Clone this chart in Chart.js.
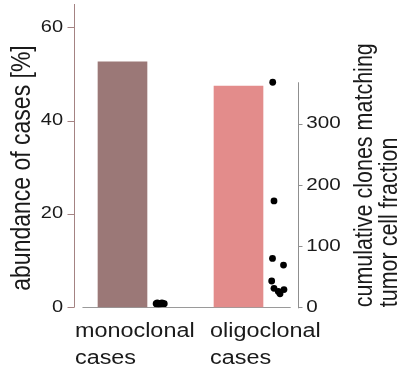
<!DOCTYPE html>
<html>
<head>
<meta charset="utf-8">
<script src="https://cdn.jsdelivr.net/npm/chart.js@4"></script>
<style>
  html, body { margin: 0; padding: 0; background: #ffffff; }
  #chart { display: block; }
</style>
</head>
<body>
<canvas id="chart" width="399" height="368"></canvas>
<script>
// Categories and their two-line axis labels
const categories = ['monoclonal cases', 'oligoclonal cases'];
const categoryLabels = [['monoclonal', 'cases'], ['oligoclonal', 'cases']];

// Share of cases per category [%]
const abundancePct = [52.6, 47.4];

// Cumulative clones matching tumor cell fraction, one value per case
const monoClones = [6, 7, 6, 5, 6, 7, 6, 6, 5, 6];
const oligoClones = [368, 174, 80, 69, 43, 31, 26, 22, 29];

// Horizontal strip jitter of each case, in category units
const monoJitter = [0.29, 0.30, 0.31, 0.32, 0.33, 0.34, 0.35, 0.36, 0.30, 0.33];
const oligoJitter = [0.295, 0.306, 0.293, 0.388, 0.286, 0.306, 0.343, 0.358, 0.392];

// Tick labels
const leftTicks = [0, 20, 40, 60];
const rightTicks = [0, 100, 200, 300];

const FONT = '"Liberation Sans", Arial, sans-serif';
const TEXT = '#1a1a1a';
const SX = 1.2;   // wide glyph stretch used for axis text

function stretchedText(ctx, text, x, y, o) {
  ctx.save();
  ctx.translate(x, y);
  ctx.scale(o.sx || SX, 1);
  if (o.rot) ctx.rotate(o.rot);
  ctx.font = o.font;
  ctx.fillStyle = o.color || TEXT;
  ctx.textAlign = o.align || 'left';
  ctx.textBaseline = o.baseline || 'alphabetic';
  ctx.fillText(text, 0, 0);
  ctx.restore();
}

const axesPlugin = {
  id: 'customAxes',
  beforeDatasetsDraw(chart) {
    const { ctx, chartArea: a } = chart;
    const x = chart.scales.x, y = chart.scales.y, y2 = chart.scales.y2;
    ctx.save();
    ctx.lineWidth = 1;

    // left axis (abundance)
    const lx = Math.round(a.left) + 0.5;
    ctx.strokeStyle = '#a48383';
    ctx.beginPath();
    ctx.moveTo(lx, a.top);
    ctx.lineTo(lx, y.getPixelForValue(0));
    y.ticks.forEach(t => {
      const py = Math.round(y.getPixelForValue(t.value)) + 0.5;
      ctx.moveTo(lx - 7, py);
      ctx.lineTo(lx, py);
    });
    ctx.stroke();

    // right axis (clones), running up to the largest value
    const rx = Math.round(a.right) + 0.5;
    const top = y2.getPixelForValue(Math.max(...oligoClones, ...monoClones));
    ctx.strokeStyle = '#8f8f8f';
    ctx.beginPath();
    ctx.moveTo(rx, top);
    ctx.lineTo(rx, y2.getPixelForValue(0) + 1);
    y2.ticks.forEach(t => {
      const py = Math.round(y2.getPixelForValue(t.value)) + 0.5;
      ctx.moveTo(rx, py);
      ctx.lineTo(rx + 4, py);
    });
    ctx.stroke();

    // baseline under the bars
    const by = Math.round(y.getPixelForValue(0)) + 0.5;
    ctx.strokeStyle = '#9a9a9a';
    ctx.beginPath();
    ctx.moveTo(x.getPixelForValue(-0.345), by);
    ctx.lineTo(x.getPixelForValue(1.45), by);
    ctx.stroke();
    ctx.restore();
  },
  afterDraw(chart) {
    const { ctx, chartArea: a } = chart;
    const x = chart.scales.x, y = chart.scales.y, y2 = chart.scales.y2;

    y.ticks.forEach(t => {
      stretchedText(ctx, String(t.value), a.left - 11, y.getPixelForValue(t.value),
        { font: '16px ' + FONT, align: 'right', baseline: 'middle', sx: 1.25 });
    });
    y2.ticks.forEach(t => {
      stretchedText(ctx, String(t.value), a.right + 8, y2.getPixelForValue(t.value),
        { font: '16.5px ' + FONT, align: 'left', baseline: 'middle', sx: 1.25 });
    });

    // category labels, left aligned
    const labelAnchor = [-0.41, 0.755];
    categoryLabels.forEach((lines, i) => {
      const px = x.getPixelForValue(labelAnchor[i]);
      lines.forEach((line, j) => {
        stretchedText(ctx, line, px, a.bottom + 29.5 + j * 27.5,
          { font: '20px ' + FONT, align: 'left', sx: 1.17 });
      });
    });

    // axis titles
    stretchedText(ctx, 'abundance of cases [%]', 29.5, 168,
      { font: '23px ' + FONT, align: 'center', rot: -Math.PI / 2, sx: 1.18 });
    stretchedText(ctx, 'cumulative clones matching', 371.5, a.bottom,
      { font: '21.5px ' + FONT, align: 'left', rot: -Math.PI / 2, sx: 1.18 });
    stretchedText(ctx, 'tumor cell fraction', 396.5, a.bottom,
      { font: '21.5px ' + FONT, align: 'left', rot: -Math.PI / 2, sx: 1.18 });
  }
};

const barData = abundancePct.map((v, i) => ({ x: i, y: v }));
const monoPoints = monoClones.map((v, i) => ({ x: 0 + monoJitter[i], y: v }));
const oligoPoints = oligoClones.map((v, i) => ({ x: 1 + oligoJitter[i], y: v }));

new Chart(document.getElementById('chart'), {
  data: {
    datasets: [
      {
        type: 'bar',
        label: 'abundance of cases [%]',
        data: barData,
        backgroundColor: ['#9b7877', '#e38c8b'],
        borderWidth: 0,
        barThickness: 49,
        xAxisID: 'x',
        yAxisID: 'y',
        order: 2
      },
      {
        type: 'scatter',
        label: categories[0],
        data: monoPoints,
        backgroundColor: '#000000',
        borderWidth: 0,
        pointRadius: 3.4,
        xAxisID: 'x',
        yAxisID: 'y2',
        order: 1
      },
      {
        type: 'scatter',
        label: categories[1],
        data: oligoPoints,
        backgroundColor: '#000000',
        borderWidth: 0,
        pointRadius: 3.4,
        xAxisID: 'x',
        yAxisID: 'y2',
        order: 1
      }
    ]
  },
  options: {
    responsive: false,
    animation: false,
    layout: { padding: { left: 74, right: 100.7, top: 4, bottom: 60.7 } },
    plugins: { legend: { display: false }, tooltip: { enabled: false } },
    scales: {
      x: { type: 'linear', display: false, offset: false, min: -0.418, max: 1.5155 },
      y: {
        type: 'linear', display: false, min: 0, max: 65,
        afterBuildTicks: s => { s.ticks = leftTicks.map(v => ({ value: v })); }
      },
      y2: {
        type: 'linear', display: false, min: 0, max: 496,
        afterBuildTicks: s => { s.ticks = rightTicks.map(v => ({ value: v })); }
      }
    }
  },
  plugins: [axesPlugin]
});
</script>
</body>
</html>
